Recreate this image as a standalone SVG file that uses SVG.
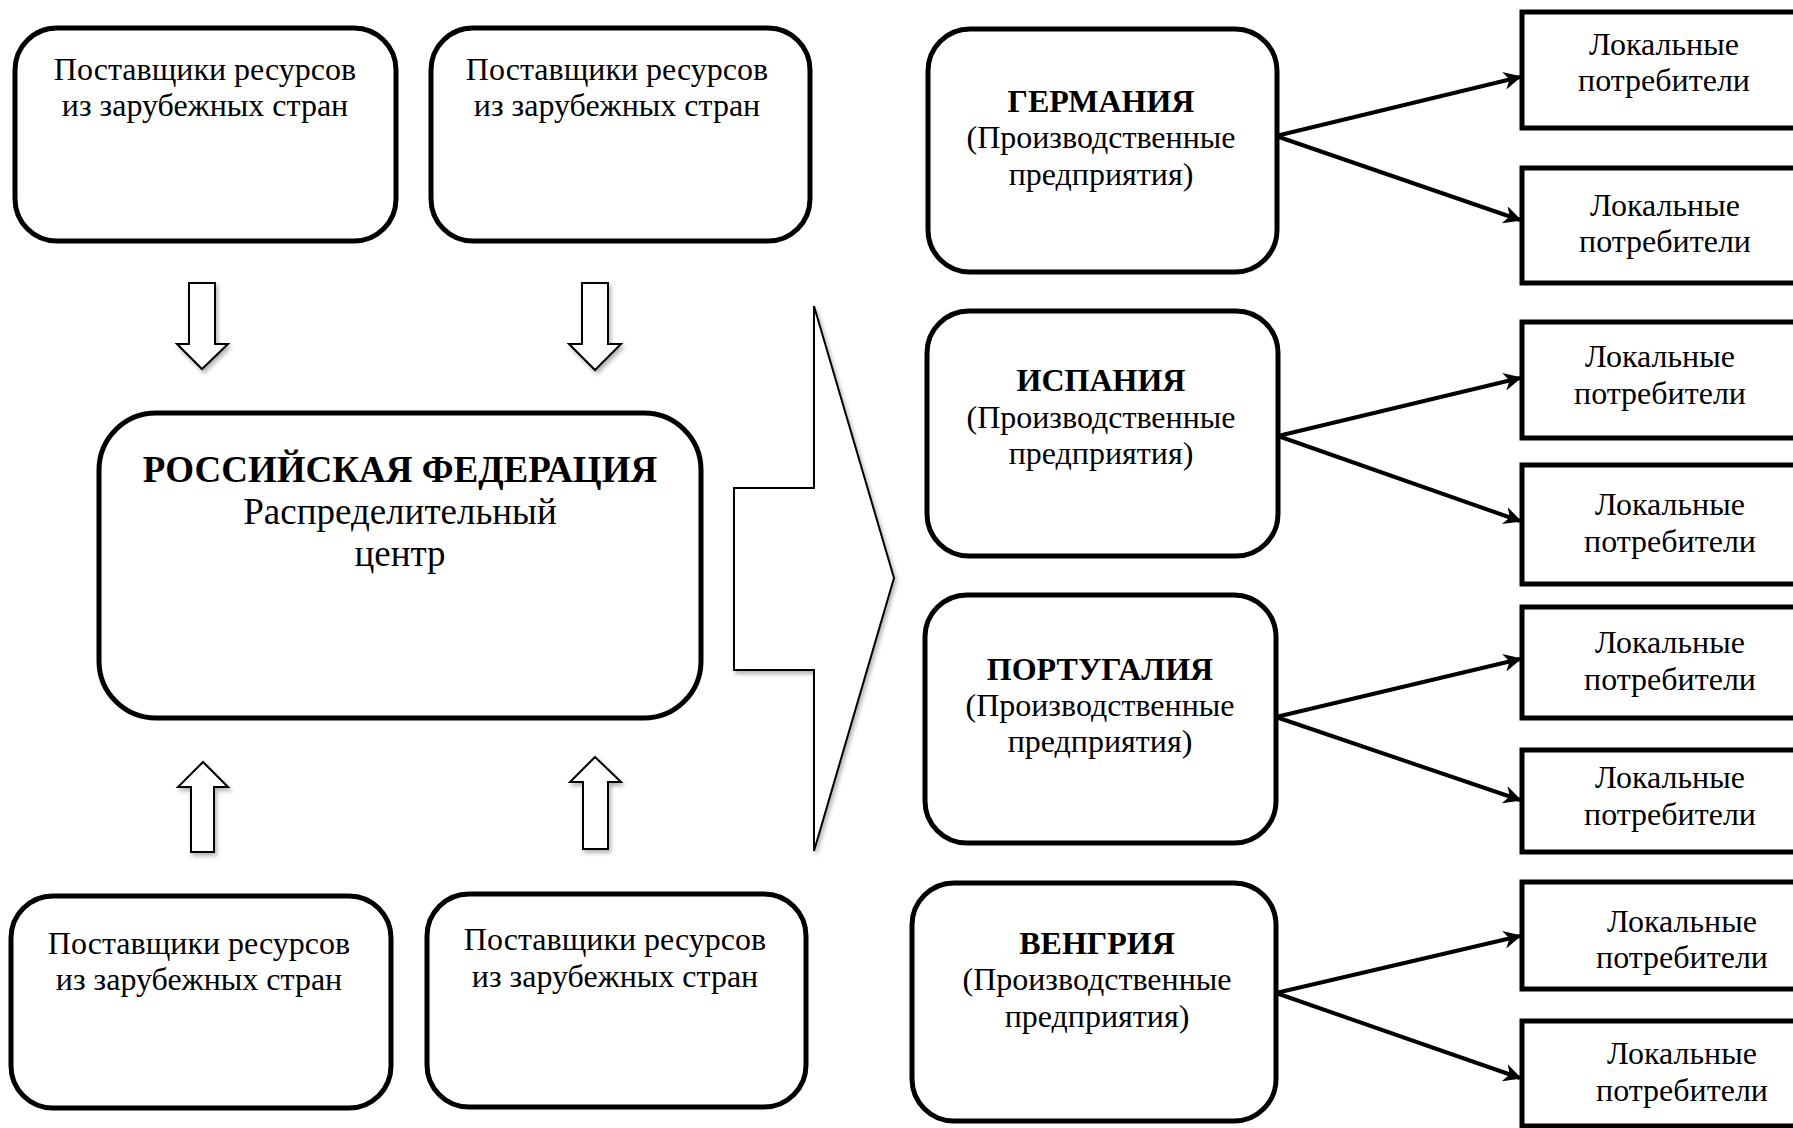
<svg xmlns="http://www.w3.org/2000/svg" width="1793" height="1128" viewBox="0 0 1793 1128">
  <style>
    .box { fill: #fff; stroke: #000; stroke-width: 5; }
    .blk { fill: #fff; stroke: #000; stroke-width: 2; filter: url(#shadow); }
    .t { font-family: "Liberation Serif", "Times New Roman", serif; font-size: 32px; fill: #000; text-anchor: middle; }
    .tb { font-weight: bold; }
    .big { font-size: 37px; }
    .link { fill: none; stroke: #000; stroke-width: 4; marker-end: url(#head); }
  </style>
  <defs>
    <filter id="shadow" x="-30%" y="-30%" width="160%" height="160%">
      <feDropShadow dx="2" dy="3" stdDeviation="2" flood-color="#000" flood-opacity="0.3"/>
    </filter>
    <marker id="head" viewBox="0 0 10 10" refX="9" refY="5" markerWidth="4.5" markerHeight="4.5" orient="auto" markerUnits="strokeWidth">
      <path d="M0,0 L10,5 L0,10 L3,5 z" fill="#000"/>
    </marker>
  </defs>

  <rect width="1793" height="1128" fill="#fff"/>

  <!-- Supplier boxes -->
  <g id="supplier-tl">
    <rect class="box" x="15" y="28" width="381" height="213" rx="42"/>
    <text class="t" x="205" y="80">Поставщики ресурсов</text>
    <text class="t" x="205" y="116">из зарубежных стран</text>
  </g>
  <g id="supplier-tr">
    <rect class="box" x="431" y="28" width="379" height="213" rx="42"/>
    <text class="t" x="617" y="80">Поставщики ресурсов</text>
    <text class="t" x="617" y="116">из зарубежных стран</text>
  </g>
  <g id="supplier-bl">
    <rect class="box" x="11" y="896" width="380" height="212" rx="42"/>
    <text class="t" x="199" y="954">Поставщики ресурсов</text>
    <text class="t" x="199" y="990">из зарубежных стран</text>
  </g>
  <g id="supplier-br">
    <rect class="box" x="427" y="894" width="379" height="213" rx="42"/>
    <text class="t" x="615" y="950">Поставщики ресурсов</text>
    <text class="t" x="615" y="987">из зарубежных стран</text>
  </g>

  <!-- Distribution centre -->
  <g id="russia">
    <rect class="box" x="99" y="413" width="602" height="305" rx="57"/>
    <text class="t big tb" x="400" y="482">РОССИЙСКАЯ ФЕДЕРАЦИЯ</text>
    <text class="t big" x="400" y="524">Распределительный</text>
    <text class="t big" x="400" y="566">центр</text>
  </g>

  <!-- Producing countries -->
  <g id="germany">
    <rect class="box" x="928" y="29" width="349" height="243" rx="42"/>
    <text class="t tb" x="1101" y="112">ГЕРМАНИЯ</text>
    <text class="t" x="1101" y="148">(Производственные</text>
    <text class="t" x="1101" y="185">предприятия)</text>
  </g>
  <g id="spain">
    <rect class="box" x="927" y="311" width="351" height="245" rx="42"/>
    <text class="t tb" x="1101" y="391">ИСПАНИЯ</text>
    <text class="t" x="1101" y="428">(Производственные</text>
    <text class="t" x="1101" y="464">предприятия)</text>
  </g>
  <g id="portugal">
    <rect class="box" x="925" y="595" width="351" height="248" rx="42"/>
    <text class="t tb" x="1100" y="680">ПОРТУГАЛИЯ</text>
    <text class="t" x="1100" y="716">(Производственные</text>
    <text class="t" x="1100" y="752">предприятия)</text>
  </g>
  <g id="hungary">
    <rect class="box" x="912" y="883" width="364" height="238" rx="42"/>
    <text class="t tb" x="1097" y="954">ВЕНГРИЯ</text>
    <text class="t" x="1097" y="990">(Производственные</text>
    <text class="t" x="1097" y="1027">предприятия)</text>
  </g>

  <!-- Local consumers -->
  <g id="local-1">
    <rect class="box" x="1522" y="12" width="300" height="116"/>
    <text class="t" x="1664" y="55">Локальные</text>
    <text class="t" x="1664" y="91">потребители</text>
  </g>
  <g id="local-2">
    <rect class="box" x="1522" y="168" width="300" height="115"/>
    <text class="t" x="1665" y="216">Локальные</text>
    <text class="t" x="1665" y="252">потребители</text>
  </g>
  <g id="local-3">
    <rect class="box" x="1522" y="322" width="300" height="116"/>
    <text class="t" x="1660" y="367">Локальные</text>
    <text class="t" x="1660" y="404">потребители</text>
  </g>
  <g id="local-4">
    <rect class="box" x="1522" y="465" width="300" height="119"/>
    <text class="t" x="1670" y="515">Локальные</text>
    <text class="t" x="1670" y="552">потребители</text>
  </g>
  <g id="local-5">
    <rect class="box" x="1522" y="607" width="300" height="111"/>
    <text class="t" x="1670" y="653">Локальные</text>
    <text class="t" x="1670" y="690">потребители</text>
  </g>
  <g id="local-6">
    <rect class="box" x="1522" y="750" width="300" height="102"/>
    <text class="t" x="1670" y="788">Локальные</text>
    <text class="t" x="1670" y="825">потребители</text>
  </g>
  <g id="local-7">
    <rect class="box" x="1522" y="882" width="300" height="107"/>
    <text class="t" x="1682" y="932">Локальные</text>
    <text class="t" x="1682" y="968">потребители</text>
  </g>
  <g id="local-8">
    <rect class="box" x="1522" y="1021" width="300" height="105"/>
    <text class="t" x="1682" y="1064">Локальные</text>
    <text class="t" x="1682" y="1101">потребители</text>
  </g>

  <!-- Connectors -->
  <g id="connectors">
    <!-- supply flows into the centre -->
    <polygon class="blk" points="189,283 215,283 215,344 228,344 202,369 177,344 189,344"/>
    <polygon class="blk" points="582,283 608,283 608,344 621,344 595,370 569,344 582,344"/>
    <polygon class="blk" points="191,852 214,852 214,787 228,787 203,762 178,787 191,787"/>
    <polygon class="blk" points="583,849 608,849 608,782 621,782 595,757 570,782 583,782"/>
    <!-- distribution towards the producing countries -->
    <polygon class="blk" points="734,488 814,488 814,306 894,578 814,851 814,670 734,670"/>
    <!-- deliveries to local consumers -->
    <line class="link" x1="1276" y1="136" x2="1520" y2="77"/>
    <line class="link" x1="1276" y1="136" x2="1520" y2="220"/>
    <line class="link" x1="1278" y1="436" x2="1520" y2="378"/>
    <line class="link" x1="1278" y1="436" x2="1520" y2="521"/>
    <line class="link" x1="1276" y1="717" x2="1520" y2="659"/>
    <line class="link" x1="1276" y1="717" x2="1520" y2="800"/>
    <line class="link" x1="1276" y1="993" x2="1520" y2="936"/>
    <line class="link" x1="1276" y1="993" x2="1520" y2="1078"/>
  </g>
</svg>
